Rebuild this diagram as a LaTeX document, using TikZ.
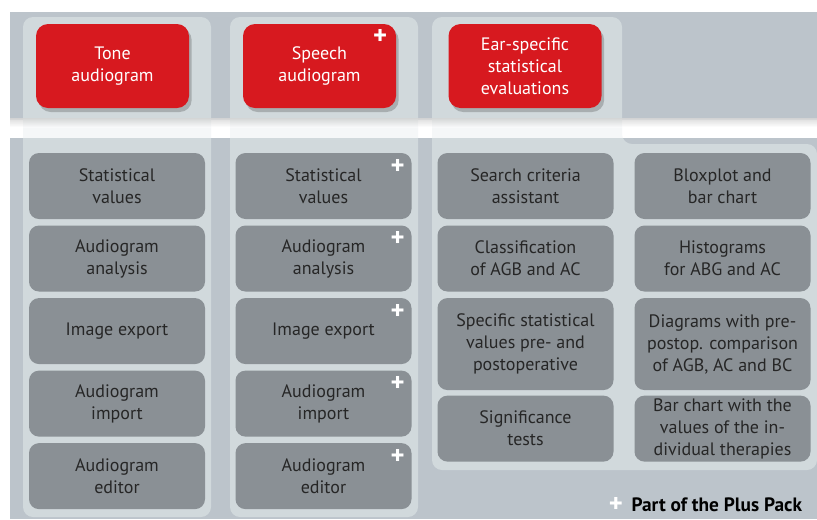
\documentclass[tikz,border=0pt]{standalone}
\usepackage{fontspec}
\setmainfont{PT Sans}
\usetikzlibrary{positioning,calc,shadows}

\definecolor{bandgray}{HTML}{BCC4CB}
\definecolor{panelgray}{HTML}{D1D9DC}
\definecolor{boxgray}{HTML}{8A9095}
\definecolor{boxred}{HTML}{D7191F}
\definecolor{txtdark}{HTML}{262626}

\tikzset{
  modbox/.style={fill=boxgray, rounded corners=7.5pt, text=txtdark, align=center,
    minimum width=132pt, minimum height=49.5pt, inner sep=2pt,
    font=\fontsize{13.5}{16.5}\selectfont},
  tallbox/.style={modbox, minimum height=69pt},
  headbox/.style={fill=boxred, rounded corners=9pt, text=white, align=center,
    minimum width=114.75pt, minimum height=63pt, inner sep=2pt,
    font=\fontsize{13.5}{16.5}\selectfont,
    drop shadow={shadow xshift=2pt, shadow yshift=-3pt, opacity=0.3, fill=black!70}},
  plusmark/.style={text=white, inner sep=0pt, font=\bfseries\fontsize{20}{20}\selectfont},
}

\begin{document}
\begin{tikzpicture}[x=0.75pt, y=-0.75pt]
\useasboundingbox (0,0) rectangle (817,519);

% background bands
\fill[bandgray] (10,12) rectangle (817,120);
\fill[bandgray] (10,138) rectangle (817,519);

% column panels
\fill[panelgray, rounded corners=7.5pt] (23,17) rectangle (211,517);
\fill[panelgray, rounded corners=7.5pt] (230,17) rectangle (418,517);
\fill[panelgray, rounded corners=7.5pt]
  (432,17) -- (622,17) -- (622,144) -- (817,144) -- (817,470) -- (432,470) -- cycle;

% faded strip between the bands
\fill[white, opacity=0.8] (10,118) rectangle (817,138);
\shade[top color=black!40, bottom color=white, opacity=0.35] (10,118) rectangle (817,127);

% headers
\node[headbox] (tone) at (112.5,66) {Tone\\audiogram};
\node[headbox] (speech) at (319.5,66) {Speech\\audiogram};
\node[headbox] (ear) at (525,66) {Ear-specific\\statistical\\evaluations};
\node[plusmark] (speechplus) at ($(speech.north east)+(-16,13)$) {+};

% tone audiogram modules
\node[modbox] (t1) at (117,186) {Statistical\\values};
\node[modbox, below=4.5pt of t1] (t2) {Audiogram\\analysis};
\node[modbox, below=4.5pt of t2] (t3) {Image export};
\node[modbox, below=4.5pt of t3] (t4) {Audiogram\\import};
\node[modbox, below=4.5pt of t4] (t5) {Audiogram\\editor};

% speech audiogram modules
\node[modbox] (s1) at (323.5,186) {Statistical\\values};
\node[modbox, below=4.5pt of s1] (s2) {Audiogram\\analysis};
\node[modbox, below=4.5pt of s2] (s3) {Image export};
\node[modbox, below=4.5pt of s3] (s4) {Audiogram\\import};
\node[modbox, below=4.5pt of s4] (s5) {Audiogram\\editor};
\foreach \n in {s1,s2,s3,s4,s5}
  \node[plusmark] at ($(\n.north east)+(-14,14)$) {+};

% ear-specific modules
\node[modbox] (e1) at (525.5,186) {Search criteria\\assistant};
\node[modbox, below=4.5pt of e1] (e2) {Classification\\of AGB and AC};
\node[tallbox, below=4.5pt of e2] (e3) {Specific statistical\\values pre- and\\postoperative};
\node[modbox, below=3.75pt of e3] (e4) {Significance\\tests};

\node[modbox] (f1) at (722.5,186) {Bloxplot and\\bar chart};
\node[modbox, below=4.5pt of f1] (f2) {Histograms\\for ABG and AC};
\node[tallbox, below=4.5pt of f2] (f3) {Diagrams with pre-\\postop. comparison\\of AGB, AC and BC};
\node[modbox, below=3.75pt of f3] (f4) {Bar chart with the\\values of the in-\\dividual therapies};

% legend
\node[plusmark] (legplus) at (616,505) {+};
\node[right=6pt of legplus, inner sep=0pt, font=\bfseries\fontsize{14.5}{15}\selectfont] (legtext) {Part of the Plus Pack};
\end{tikzpicture}
\end{document}
